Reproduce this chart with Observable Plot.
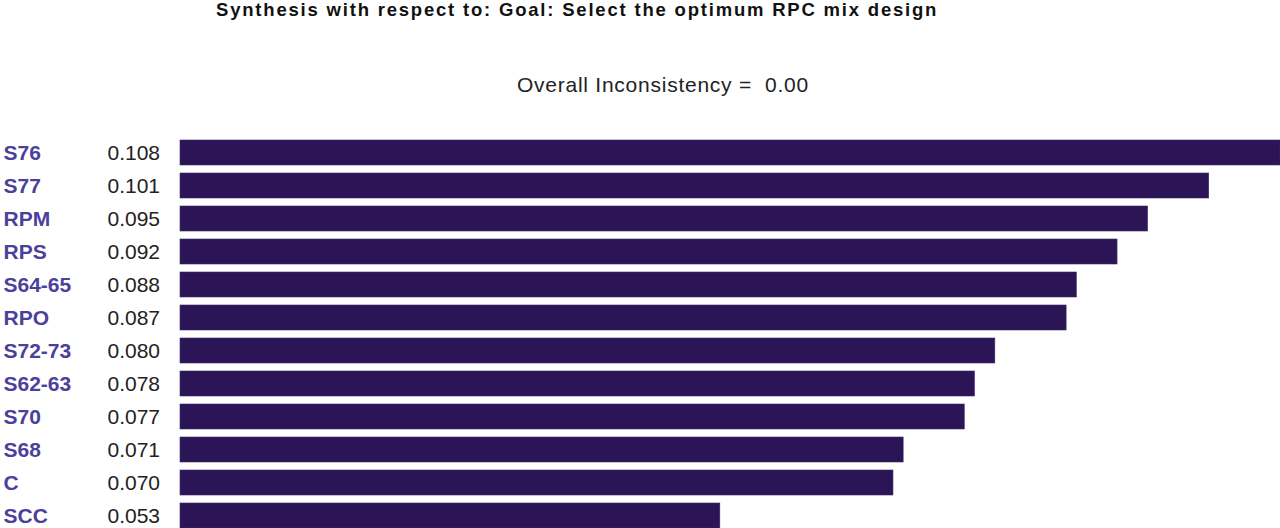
<!DOCTYPE html>
<html>
<head>
<meta charset="utf-8">
<script src="https://cdn.jsdelivr.net/npm/d3@7"></script>
<script src="https://cdn.jsdelivr.net/npm/@observablehq/plot@0.6"></script>
<style>
  html, body { margin: 0; padding: 0; background: #fff; }
  body { width: 1280px; height: 528px; position: relative; overflow: hidden; font-family: "Liberation Sans", Arial, sans-serif; }
  #title { position: absolute; left: 216px; top: 1px; font-size: 18.5px; line-height: 18.5px; font-weight: bold; letter-spacing: 1.8px; color: #111; white-space: pre; }
  #subtitle { position: absolute; left: 517px; top: 74px; font-size: 21px; line-height: 21px; letter-spacing: 0.75px; color: #222; white-space: pre; }
  #chart { position: absolute; left: 0; top: 130px; }
</style>
</head>
<body>
<div id="title">Synthesis with respect to: Goal: Select the optimum RPC mix design</div>
<div id="subtitle">Overall Inconsistency =  0.00</div>
<div id="chart"></div>
<script>
const names = ["S76", "S77", "RPM", "RPS", "S64-65", "RPO", "S72-73", "S62-63", "S70", "S68", "C", "SCC"];
const values = [0.108, 0.101, 0.095, 0.092, 0.088, 0.087, 0.080, 0.078, 0.077, 0.071, 0.070, 0.053];
const data = names.map((n, i) => ({name: n, value: values[i]}));

const chart = Plot.plot({
  width: 1280,
  height: 398,
  marginTop: 10,
  marginBottom: 0,
  marginLeft: 180,
  marginRight: 0,
  style: {fontFamily: '"Liberation Sans", Arial, sans-serif', overflow: "visible"},
  x: {domain: [0, 0.108], axis: null},
  y: {domain: names, axis: null, paddingInner: 0.2424, paddingOuter: 0, round: false},
  marks: [
    Plot.barX(data, {x: "value", y: "name", fill: "#2b1556", stroke: "#3a2a66", strokeWidth: 0.6}),
    Plot.text(data, {y: "name", text: "name", frameAnchor: "left", textAnchor: "start", dx: -177, fontSize: 21, fontWeight: "bold", fill: "#4b409c"}),
    Plot.text(data, {y: "name", text: d => d.value.toFixed(3), frameAnchor: "left", textAnchor: "start", dx: -73, fontSize: 21, fill: "#222"})
  ]
});
document.getElementById("chart").appendChild(chart);
</script>
</body>
</html>
